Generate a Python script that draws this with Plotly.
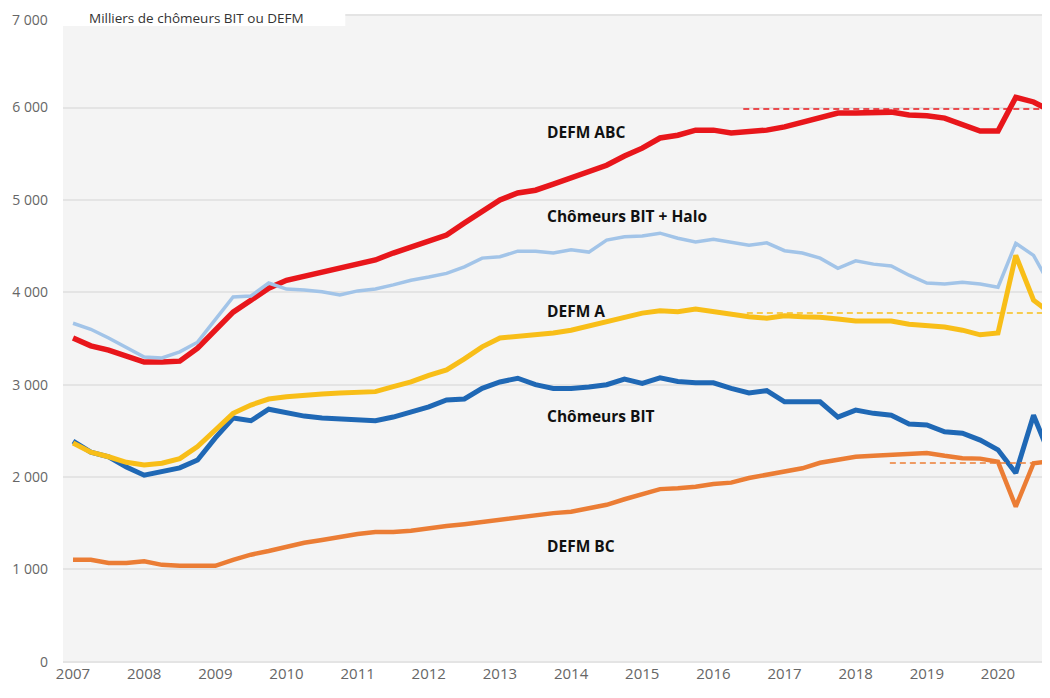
import plotly.graph_objects as go

# Quarterly series, 2007Q1 -> 2020Q4, in thousands
years = list(range(2007, 2021))
quarters = [y + q / 4 for y in years for q in range(4)]

defm_abc = [3505, 3420, 3375, 3310, 3245, 3245, 3255, 3395,
            3590, 3785, 3915, 4045, 4130, 4175, 4220, 4260,
            4305, 4350, 4425, 4490, 4565, 4620, 4750, 4870,
            5000, 5075, 5105, 5170, 5235, 5300, 5375, 5475,
            5560, 5670, 5700, 5755, 5755, 5725, 5735, 5755,
            5790, 5840, 5895, 5940, 5940, 5940, 5950, 5920,
            5910, 5885, 5810, 5745, 5745, 6110, 6060, 5960]

bit_halo = [3665, 3600, 3505, 3400, 3300, 3290, 3355, 3460,
            3700, 3950, 3960, 4100, 4035, 4025, 4005, 3970,
            4015, 4035, 4080, 4130, 4165, 4205, 4275, 4370,
            4385, 4445, 4445, 4425, 4460, 4435, 4565, 4600,
            4610, 4640, 4585, 4545, 4575, 4545, 4510, 4535,
            4450, 4425, 4370, 4260, 4340, 4305, 4285, 4185,
            4100, 4090, 4110, 4090, 4055, 4530, 4400, 4050]

defm_a = [2370, 2270, 2220, 2160, 2130, 2150, 2200, 2330,
          2510, 2690, 2780, 2845, 2870, 2890, 2900, 2910,
          2915, 2925, 2980, 3030, 3100, 3160, 3280, 3410,
          3505, 3520, 3535, 3560, 3590, 3635, 3680, 3735,
          3775, 3800, 3790, 3820, 3790, 3755, 3735, 3720,
          3745, 3735, 3730, 3710, 3690, 3690, 3690, 3655,
          3645, 3625, 3590, 3540, 3560, 4400, 3915, 3770]

bit = [2390, 2270, 2220, 2110, 2020, 2065, 2100, 2185,
       2425, 2640, 2610, 2735, 2695, 2660, 2640, 2630,
       2630, 2610, 2650, 2700, 2760, 2835, 2845, 2960,
       3030, 3070, 3000, 2960, 2960, 2975, 3000, 3060,
       3015, 3075, 3035, 3020, 3020, 2960, 2910, 2935,
       2815, 2815, 2815, 2650, 2725, 2690, 2670, 2575,
       2565, 2490, 2475, 2400, 2295, 2045, 2670, 2200]

defm_bc = [1105, 1105, 1070, 1070, 1090, 1050, 1040, 1040,
           1040, 1105, 1160, 1200, 1245, 1290, 1320, 1355,
           1385, 1405, 1405, 1420, 1450, 1470, 1490, 1515,
           1545, 1560, 1590, 1610, 1625, 1660, 1700, 1760,
           1820, 1870, 1880, 1895, 1925, 1940, 1990, 2025,
           2055, 2095, 2155, 2185, 2220, 2230, 2240, 2250,
           2260, 2230, 2205, 2200, 2165, 1680, 2150, 2170]

# Dashed reference levels: (start, end) and level
abc_ref_x, abc_ref_y = [2016.42, 2020.75], [5985, 5985]
a_ref_x, a_ref_y = [2016.47, 2020.75], [3775, 3775]
bc_ref_x, bc_ref_y = [2018.48, 2020.75], [2153, 2153]

label_texts = ["DEFM ABC", "Chômeurs BIT + Halo", "DEFM A", "Chômeurs BIT", "DEFM BC"]
label_y = [5730, 4830, 3800, 2660, 1250]

# the top label (7 000) is placed separately so it stays inside the page
ytick_vals = [0, 1000, 2000, 3000, 4000, 5000, 6000, 7000]
ytick_text = ["0", "1 000", "2 000", "3 000", "4 000", "5 000", "6 000", ""]
ytop_label = "7 000"

RED = "#E8161B"
HALO = "#A2C4E8"
YELLOW = "#F8BE18"
BLUE = "#1F68B5"
ORANGE = "#EB7D35"

fig = go.Figure()

fig.add_trace(go.Scatter(x=quarters, y=defm_bc, mode="lines",
                         line=dict(color=ORANGE, width=4.5)))
fig.add_trace(go.Scatter(x=quarters, y=bit, mode="lines",
                         line=dict(color=BLUE, width=5)))
fig.add_trace(go.Scatter(x=quarters, y=defm_a, mode="lines",
                         line=dict(color=YELLOW, width=5)))
fig.add_trace(go.Scatter(x=quarters, y=defm_abc, mode="lines",
                         line=dict(color=RED, width=5.5)))
fig.add_trace(go.Scatter(x=quarters, y=bit_halo, mode="lines",
                         line=dict(color=HALO, width=3.5)))

# dashed reference lines
for xs, ys, col in [(abc_ref_x, abc_ref_y, RED), (a_ref_x, a_ref_y, YELLOW),
                    (bc_ref_x, bc_ref_y, ORANGE)]:
    fig.add_trace(go.Scatter(x=xs, y=ys, mode="lines",
                             line=dict(color=col, width=1.5, dash="6px,4px")))

# series labels
for txt, yv in zip(label_texts, label_y):
    fig.add_annotation(x=2013.64, y=yv, text="<b>" + txt + "</b>", showarrow=False,
                       xanchor="left", yanchor="middle",
                       font=dict(family="Open Sans", size=15.5, color="#111111"))

# white box behind the unit title (page body adds an 8px offset)
fig.add_shape(type="rect", xref="paper", yref="paper",
              x0=0, x1=0.286, y0=0.9815, y1=1.03,
              fillcolor="white", line=dict(width=0), layer="above")
fig.add_annotation(xref="paper", yref="paper", x=0.024, y=1.0108,
                   text="Milliers de chômeurs BIT ou DEFM", showarrow=False,
                   xanchor="left", yanchor="top",
                   font=dict(family="Open Sans", size=13.5, color="#333333"))
fig.add_annotation(xref="paper", yref="paper", x=-0.0132, y=1.0092,
                   text=ytop_label, showarrow=False,
                   xanchor="right", yanchor="top",
                   font=dict(family="Open Sans", size=14, color="#666666"))

fig.update_layout(
    width=1042, height=690,
    margin=dict(l=55, r=0, t=6, b=35),
    paper_bgcolor="white",
    plot_bgcolor="#F4F4F4",
    showlegend=False,
    font=dict(family="Open Sans", color="#666666"),
)
fig.update_xaxes(range=[2006.859, 2020.731], tickmode="array",
                 tickvals=years, ticktext=[str(y) for y in years],
                 showgrid=False, zeroline=False, showline=False,
                 ticks="", automargin=False,
                 tickfont=dict(size=15, color="#666666"))
fig.update_yaxes(range=[-12, 7012], tickmode="array",
                 tickvals=ytick_vals, ticktext=ytick_text,
                 showgrid=True, gridcolor="#E4E4E4", gridwidth=2,
                 zeroline=False, showline=False, ticks="",
                 ticklabelstandoff=14, automargin=False,
                 tickfont=dict(size=14, color="#666666"))

fig.write_html("out.html")
